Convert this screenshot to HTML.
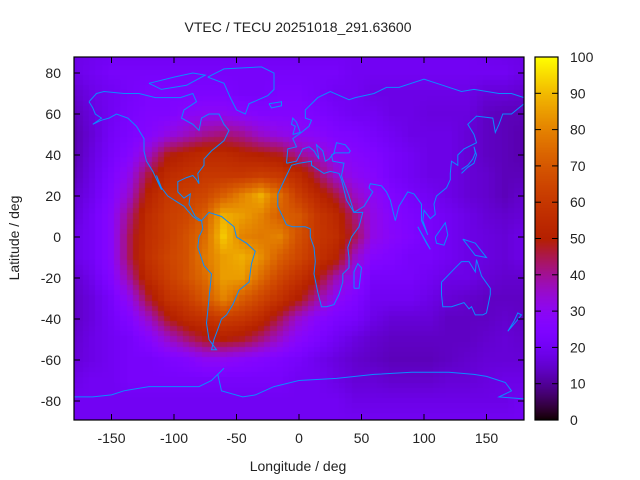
<!DOCTYPE html>
<html><head><meta charset="utf-8">
<style>
body{margin:0;background:#fff;}
#wrap{position:relative;width:640px;height:480px;font-family:"Liberation Sans",sans-serif;}
svg text{font-family:"Liberation Sans",sans-serif;font-size:14px;fill:#222;}
</style></head><body>
<div id="wrap">
<canvas id="hm" width="640" height="480" style="position:absolute;left:0;top:0"></canvas>
<svg id="ov" width="640" height="480" style="position:absolute;left:0;top:0"></svg>
</div>
<script>
const lonGrid=[-180,-165,-150,-135,-120,-105,-90,-75,-60,-45,-30,-15,0,15,30,45,60,75,90,105,120,135,150,165,180];
const latGrid=[90,80,70,60,50,40,30,20,10,0,-10,-20,-30,-40,-50,-60,-70,-80,-90];
const tec=[
[18,19,20,20,20,20,20,20,20,20,20,20,20,20,20,20,20,20,20,20,20,20,19,18,18],
[18,20,22,22,22,22,22,22,22,22,22,22,22,22,22,20,20,20,20,20,20,20,20,20,18],
[15,18,20,22,24,24,24,24,24,22,22,24,24,22,20,20,18,18,18,18,18,18,16,16,15],
[13,17,20,23,25,25,28,30,30,28,26,26,26,24,22,20,20,18,18,17,17,17,14,13,13],
[12,16,21,24,27,32,36,40,42,40,35,32,30,28,25,24,22,20,18,18,18,16,14,13,12],
[12,17,22,27,36,48,52,55,55,52,50,48,40,36,30,27,25,22,20,18,18,16,14,13,12],
[13,18,24,32,46,55,58,60,60,60,62,60,55,45,35,30,27,22,20,18,18,16,15,13,13],
[15,19,26,36,52,60,63,65,72,80,88,75,62,54,46,36,30,25,22,20,18,16,15,13,15],
[16,21,28,42,56,62,65,72,88,85,80,72,70,60,54,42,32,27,24,22,20,18,16,15,16],
[18,21,28,45,57,62,68,75,92,80,78,80,68,60,56,45,32,28,25,22,20,18,17,16,18],
[18,21,28,45,58,64,68,78,85,88,82,72,65,58,52,36,27,25,22,22,20,18,17,16,18],
[15,19,26,40,55,62,68,75,85,85,75,65,58,50,38,30,22,22,22,20,18,18,16,15,15],
[14,17,22,32,47,58,62,70,80,72,65,58,50,40,30,25,20,20,20,18,16,15,14,14,14],
[14,17,21,26,36,48,55,58,62,60,55,45,35,28,24,22,18,16,16,16,14,14,14,15,14],
[15,18,20,22,27,35,42,48,50,48,42,35,28,24,20,17,15,14,14,14,14,14,15,16,15],
[16,18,20,22,22,24,26,30,30,28,26,24,22,19,17,15,14,13,13,13,14,15,16,16,16],
[18,20,20,22,22,22,22,22,22,22,22,22,20,20,18,16,16,15,15,15,16,16,17,18,18],
[20,20,20,20,20,20,20,20,20,20,20,20,20,20,20,18,18,18,18,18,18,18,18,18,20],
[20,20,20,20,20,20,20,20,20,20,20,20,20,20,20,20,20,20,20,20,20,20,20,20,20]];
const xTicks=[-150,-100,-50,0,50,100,150];
const yTicks=[-80,-60,-40,-20,0,20,40,60,80];
const cbTicks=[0,10,20,30,40,50,60,70,80,90,100];

const PL=74,PR=524,PT=57,PB=420;
const xs=lon=>PL+(lon+180)*(PR-PL)/360;
const ys=lat=>237-lat*2.05;
const cbY=v=>PB-v*(PB-PT)/100;
function col(v){let x=Math.max(0,Math.min(1,v/100));
 let r=Math.sqrt(x),g=x*x*x,b=Math.max(0,Math.sin(2*Math.PI*x));
 return `rgb(${Math.round(r*255)},${Math.round(g*255)},${Math.round(b*255)})`;}
function interp(lon,lat){
 let fi=(lon+180)/15, fj=(90-lat)/10;
 let i=Math.min(23,Math.floor(fi)),j=Math.min(17,Math.floor(fj));
 let a=fi-i,b=fj-j;
 return tec[j][i]*(1-a)*(1-b)+tec[j][i+1]*a*(1-b)+tec[j+1][i]*(1-a)*b+tec[j+1][i+1]*a*b;}
const ctx=document.getElementById('hm').getContext('2d');
ctx.save();ctx.beginPath();ctx.rect(PL,PT,PR-PL,PB-PT);ctx.clip();
for(let lon=-180;lon<=180;lon+=5){for(let lat=90;lat>=-90;lat-=2.5){
 ctx.fillStyle=col(interp(lon,lat));
 ctx.fillRect(Math.floor(xs(lon-2.5)),Math.floor(ys(lat+1.25)),Math.ceil(xs(lon+2.5)-xs(lon-2.5))+1,Math.ceil(ys(lat-1.25)-ys(lat+1.25))+1);
}}
ctx.restore();
for(let p=PT;p<PB;p++){ctx.fillStyle=col((PB-p)/(PB-PT)*100);ctx.fillRect(535,p,23,1);}

const NS='http://www.w3.org/2000/svg';
const ov=document.getElementById('ov');
function mk(t,at,name){const e=document.createElementNS(NS,t);for(const k in at)e.setAttribute(k,at[k]);
 
 
 ov.appendChild(e);return e;}
const coasts=[
[[-168,66],[-162,70],[-156,71],[-140,70],[-128,70],[-115,68],[-95,68],[-85,70],[-82,66],[-92,62],[-94,58],[-85,55],[-80,52],[-78,58],[-72,60],[-64,60],[-60,55],[-56,52],[-60,47],[-66,44],[-70,42],[-76,38],[-76,35],[-81,31],[-80,26],[-82,28],[-85,30],[-90,29],[-97,27],[-97,22],[-92,19],[-87,21],[-88,16],[-83,10],[-78,8],[-80,8],[-85,10],[-92,15],[-105,20],[-110,24],[-114,30],[-110,23],[-117,32],[-122,37],[-124,42],[-124,48],[-130,54],[-137,58],[-146,60],[-152,58],[-158,57],[-165,55],[-158,58],[-163,60],[-165,63],[-168,66]],
[[-78,8],[-72,12],[-62,10],[-52,5],[-50,0],[-42,-3],[-35,-7],[-38,-13],[-40,-22],[-48,-26],[-53,-33],[-58,-38],[-62,-40],[-65,-45],[-68,-50],[-70,-55],[-66,-55],[-72,-50],[-74,-42],[-72,-30],[-70,-18],[-76,-14],[-81,-5],[-80,0],[-77,4],[-78,8]],
[[-73,78],[-60,82],[-30,83],[-20,80],[-20,72],[-25,69],[-40,65],[-43,60],[-50,62],[-55,68],[-60,75],[-73,78]],
[[-120,75],[-100,78],[-85,80],[-75,79],[-90,74],[-110,72],[-120,75]],
[[-17,21],[-17,15],[-10,6],[-5,5],[5,5],[9,4],[9,0],[12,-5],[13,-12],[12,-18],[15,-27],[18,-34],[22,-34],[28,-33],[32,-28],[35,-22],[35,-18],[40,-15],[40,-10],[39,-5],[42,0],[48,5],[51,12],[44,12],[38,18],[34,28],[32,31],[25,32],[20,31],[10,35],[10,37],[0,36],[-6,35],[-10,30],[-17,21]],
[[-10,36],[-9,43],[-2,44],[-5,48],[2,51],[8,54],[10,57],[5,58],[5,62],[15,68],[25,71],[40,67],[45,68],[60,70],[70,73],[80,73],[100,77],[115,74],[130,71],[140,72],[160,70],[170,70],[180,68],[180,65],[170,60],[163,60],[160,55],[157,51],[155,58],[142,59],[135,55],[140,50],[142,46],[132,43],[127,40],[127,35],[122,37],[121,31],[121,28],[118,24],[110,20],[108,16],[109,11],[105,9],[100,13],[99,8],[103,1],[98,8],[98,16],[92,21],[87,22],[80,15],[77,8],[73,18],[70,22],[66,25],[57,26],[56,24],[59,22],[52,15],[44,12],[40,20],[35,28],[34,30],[36,36],[27,37],[26,40],[29,41],[40,41],[41,42],[37,45],[30,46],[28,41],[24,38],[21,37],[19,42],[14,45],[16,38],[12,42],[8,44],[3,43],[-2,37],[-10,36]],
[[114,-22],[114,-28],[115,-34],[122,-34],[132,-32],[136,-35],[138,-34],[141,-38],[147,-38],[150,-37],[153,-28],[153,-25],[146,-19],[142,-11],[141,-17],[136,-12],[130,-12],[125,-15],[114,-22]],
[[-180,-78],[-165,-78],[-150,-77],[-140,-75],[-120,-73],[-100,-73],[-80,-73],[-70,-70],[-60,-64],[-65,-67],[-62,-75],[-45,-78],[-35,-77],[-20,-73],[0,-70],[30,-69],[60,-67],[90,-66],[120,-66],[140,-67],[150,-68],[165,-71],[170,-75],[160,-78],[180,-79]],
[[-5,50],[1,51],[-2,56],[-5,58],[-6,55],[-3,54],[-5,50]],
[[130,31],[135,34],[140,36],[142,40],[140,44],[141,41],[139,38],[135,35],[130,33]],
[[44,-25],[48,-25],[50,-15],[47,-13],[44,-17],[44,-25]],
[[167,-46],[174,-41],[178,-38],[175,-37],[172,-41],[167,-46]],
[[95,5],[105,-6],[102,-3],[95,5]],
[[109,0],[117,7],[119,1],[116,-4],[110,-3],[109,0]],
[[131,-1],[141,-3],[150,-10],[141,-9],[131,-1]],
[[-24,65],[-14,66],[-14,64],[-22,63],[-24,65]]];
coasts.forEach(c=>{mk('polyline',{points:c.map(p=>xs(p[0]).toFixed(1)+','+ys(p[1]).toFixed(1)).join(' '),fill:'none',stroke:'#0a8cff','stroke-width':1},'coastline');});
mk('rect',{x:PL,y:PT,width:PR-PL,height:PB-PT,fill:'none',stroke:'#000','stroke-width':1.2},'plot-frame');
mk('rect',{x:535,y:PT,width:23,height:PB-PT,fill:'none',stroke:'#000','stroke-width':1.2},'colorbar-frame');
xTicks.forEach(v=>{const x=xs(v);
 mk('line',{x1:x,y1:PB,x2:x,y2:PB-6,stroke:'#000'},'x-tick');
 mk('line',{x1:x,y1:PT,x2:x,y2:PT+6,stroke:'#000'},'x-tick-top');
 const t=mk('text',{x:x,y:443,'text-anchor':'middle'},'x-tick-label');t.textContent=v;});
yTicks.forEach(v=>{const y=ys(v);
 mk('line',{x1:PL,y1:y,x2:PL+6,y2:y,stroke:'#000'},'y-tick');
 mk('line',{x1:PR,y1:y,x2:PR-6,y2:y,stroke:'#000'},'y-tick-right');
 const t=mk('text',{x:61,y:y+5,'text-anchor':'end'},'y-tick-label');t.textContent=v;});
cbTicks.forEach(v=>{const y=cbY(v);
 mk('line',{x1:535,y1:y,x2:541,y2:y,stroke:'#000'},'colorbar-tick');
 mk('line',{x1:558,y1:y,x2:552,y2:y,stroke:'#000'},'colorbar-tick-right');
 const t=mk('text',{x:570,y:y+5},'colorbar-tick-label');t.textContent=v;});
let t=mk('text',{x:298,y:32,'text-anchor':'middle'},'chart-title');t.textContent='VTEC / TECU 20251018_291.63600';
t=mk('text',{x:298,y:471,'text-anchor':'middle'},'x-axis-title');t.textContent='Longitude / deg';
t=mk('text',{x:19,y:238,'text-anchor':'middle',transform:'rotate(-90 19 238)'},'y-axis-title');t.textContent='Latitude / deg';
</script>
</body></html>
